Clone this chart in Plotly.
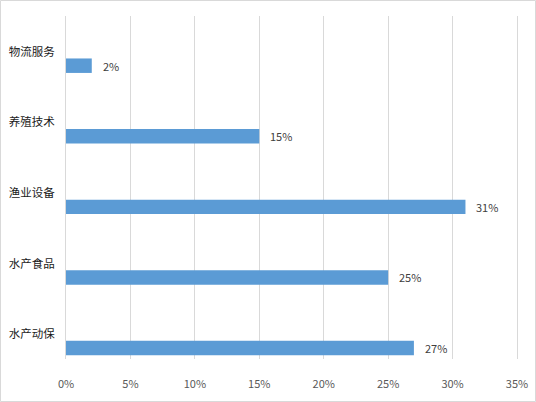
import plotly.graph_objects as go

categories = ["物流服务", "养殖技术", "渔业设备", "水产食品", "水产动保"]
values = [2, 15, 31, 25, 27]
xticks = [0, 5, 10, 15, 20, 25, 30, 35]
xticklabels = ["0%", "5%", "10%", "15%", "20%", "25%", "30%", "35%"]

W, H = 536, 402
ml, mr, mt, mb = 66, 19, 16, 43
pw, ph = W - ml - mr, H - mt - mb

bar_off = 0.198
bar_w = 0.205

fig = go.Figure()
fig.add_trace(go.Bar(
    x=values, y=list(range(len(categories))), orientation="h",
    marker=dict(color="#5b9bd5", line=dict(width=0)),
    width=bar_w, offset=bar_off - bar_w / 2,
    hoverinfo="skip",
))

for i, v in enumerate(values):
    fig.add_annotation(x=v, y=i + bar_off, text=f"{v}%", showarrow=False,
                       xanchor="left", yanchor="middle", xshift=9,
                       font=dict(size=11, color="#404040"))

fig.update_layout(
    width=W, height=H,
    margin=dict(l=ml, r=mr, t=mt, b=mb, pad=0, autoexpand=False),
    paper_bgcolor="white", plot_bgcolor="white",
    showlegend=False,
    font=dict(family="Noto Sans CJK SC, sans-serif", color="#404040"),
    xaxis=dict(range=[0, 35], tickvals=xticks, ticktext=xticklabels,
               showgrid=True, gridcolor="#d9d9d9", gridwidth=1,
               zeroline=False, showline=False, ticks="",
               ticklabelstandoff=17, automargin=False,
               tickfont=dict(size=11, color="#595959")),
    yaxis=dict(range=[4.353, -0.506], tickvals=list(range(len(categories))),
               ticktext=categories, showgrid=False, zeroline=False,
               showline=True, linecolor="#d9d9d9", mirror=True, ticks="",
               ticklabelstandoff=8, automargin=False,
               tickfont=dict(size=11.5, color="#1a1a1a")),
)

fig.add_shape(type="rect", xref="paper", yref="paper",
              x0=(-ml + 0.5) / pw, x1=(pw + mr - 0.5) / pw,
              y0=(-mb + 0.5) / ph, y1=(ph + mt - 0.5) / ph,
              line=dict(color="#d9d9d9", width=1), layer="below")

fig.write_html("out.html", config={"displayModeBar": False},
               post_script="document.body.style.margin='0';document.body.style.overflow='hidden';")
